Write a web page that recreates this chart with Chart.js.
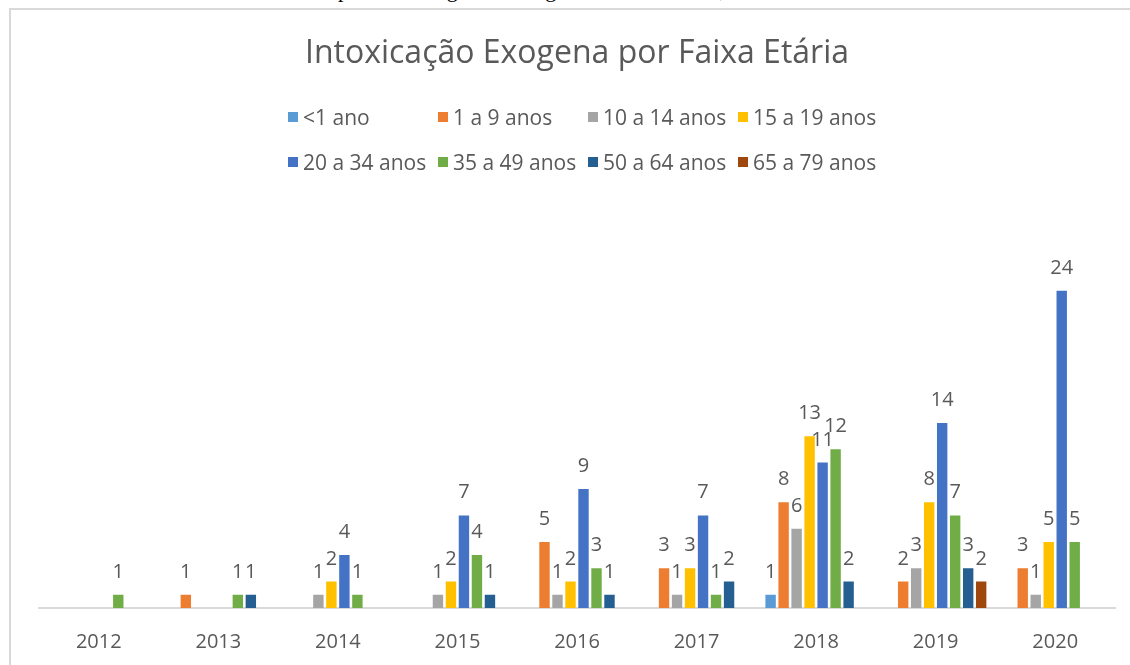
<!DOCTYPE html>
<html>
<head>
<meta charset="utf-8">
<script src="https://cdn.jsdelivr.net/npm/chart.js@4"></script>
<style>
  body { margin: 0; background: #fff; }
  #wrap { position: relative; width: 1130px; height: 665px; overflow: hidden; background: #fff; }
  #caption { position: absolute; top: -21px; left: 338px; font: 22px "Liberation Serif", serif; color: #000; white-space: nowrap; line-height: 22px; }
  #frame { position: absolute; left: 9px; top: 8px; width: 1300px; height: 900px; border-left: 2px solid #d9d9d9; border-top: 2px solid #d9d9d9; }
  #chart { position: absolute; left: 0; top: 0; }
  #legend { position: absolute; left: 288px; top: 104px; display: grid; grid-template-columns: 150px 150px 150px 150px; row-gap: 19px; font: 21px "Open Sans", sans-serif; color: #595959; }
  #legend div { display: flex; align-items: center; height: 26px; white-space: nowrap; }
  #legend span { display: inline-block; width: 10px; height: 10px; margin-right: 5px; }
</style>
</head>
<body>
<div id="wrap">
  <div id="caption">ponto de diagnóstico segundo a faixa etária, 2012 a 2020.</div>
  <div id="frame"></div>
  <canvas id="chart" width="1130" height="665"></canvas>
  <div id="legend"></div>
</div>
<script>
// anos e faixas etárias
const years = ["2012", "2013", "2014", "2015", "2016", "2017", "2018", "2019", "2020"];
const ageGroups = ["<1 ano", "1 a 9 anos", "10 a 14 anos", "15 a 19 anos",
                   "20 a 34 anos", "35 a 49 anos", "50 a 64 anos", "65 a 79 anos"];
const colors = ["#5B9BD5", "#ED7D31", "#A5A5A5", "#FFC000", "#4472C4", "#70AD47", "#255E91", "#9E480E"];

// casos por faixa (null = sem registro)
const menos1  = [null, null, null, null, null, null, 1, null, null];
const de1a9   = [null, 1, null, null, 5, 3, 8, 2, 3];
const de10a14 = [null, null, 1, 1, 1, 1, 6, 3, 1];
const de15a19 = [null, null, 2, 2, 2, 3, 13, 8, 5];
const de20a34 = [null, null, 4, 7, 9, 7, 11, 14, 24];
const de35a49 = [1, 1, 1, 4, 3, 1, 12, 7, 5];
const de50a64 = [null, 1, null, 1, 1, 2, 2, 3, null];
const de65a79 = [null, null, null, null, null, null, null, 2, null];

const series = [menos1, de1a9, de10a14, de15a19, de20a34, de35a49, de50a64, de65a79];

// legenda em grade, como no Excel
const legendBox = document.getElementById("legend");
ageGroups.forEach((name, i) => {
  legendBox.innerHTML += `<div><span style="background:${colors[i]}"></span>${name}</div>`;
});

// rótulos de dados acima das barras
const barLabels = {
  id: "barLabels",
  afterDatasetsDraw(chart) {
    const ctx = chart.ctx;
    ctx.save();
    ctx.font = "20px 'Open Sans'";
    ctx.fillStyle = "#595959";
    ctx.textAlign = "center";
    ctx.textBaseline = "alphabetic";
    chart.data.datasets.forEach((ds, i) => {
      chart.getDatasetMeta(i).data.forEach((bar, j) => {
        const v = ds.data[j];
        if (v == null) return;
        ctx.fillText(v, bar.x, bar.y - 17);
      });
    });
    ctx.restore();
  }
};

new Chart(document.getElementById("chart"), {
  type: "bar",
  data: {
    labels: years,
    datasets: series.map((vals, i) => ({
      label: ageGroups[i],
      data: vals,
      backgroundColor: colors[i],
      categoryPercentage: 0.87,
      barPercentage: 0.8
    }))
  },
  options: {
    responsive: false,
    animation: false,
    layout: { padding: { left: 39, right: 15, top: 0, bottom: -11 } },
    plugins: {
      legend: { display: false },
      tooltip: { enabled: false },
      title: {
        display: true,
        text: "Intoxicação Exogena por Faixa Etária",
        color: "#595959",
        font: { family: "Open Sans", size: 32, weight: "normal" },
        padding: { top: 35, bottom: 138 }
      }
    },
    scales: {
      x: {
        grid: { display: false, drawTicks: false },
        border: { display: true, color: "#d9d9d9", width: 2 },
        ticks: { color: "#595959", font: { family: "Open Sans", size: 20 }, padding: 22 }
      },
      y: { display: false, min: 0, max: 30 }
    }
  },
  plugins: [barLabels]
});
</script>
</body>
</html>
